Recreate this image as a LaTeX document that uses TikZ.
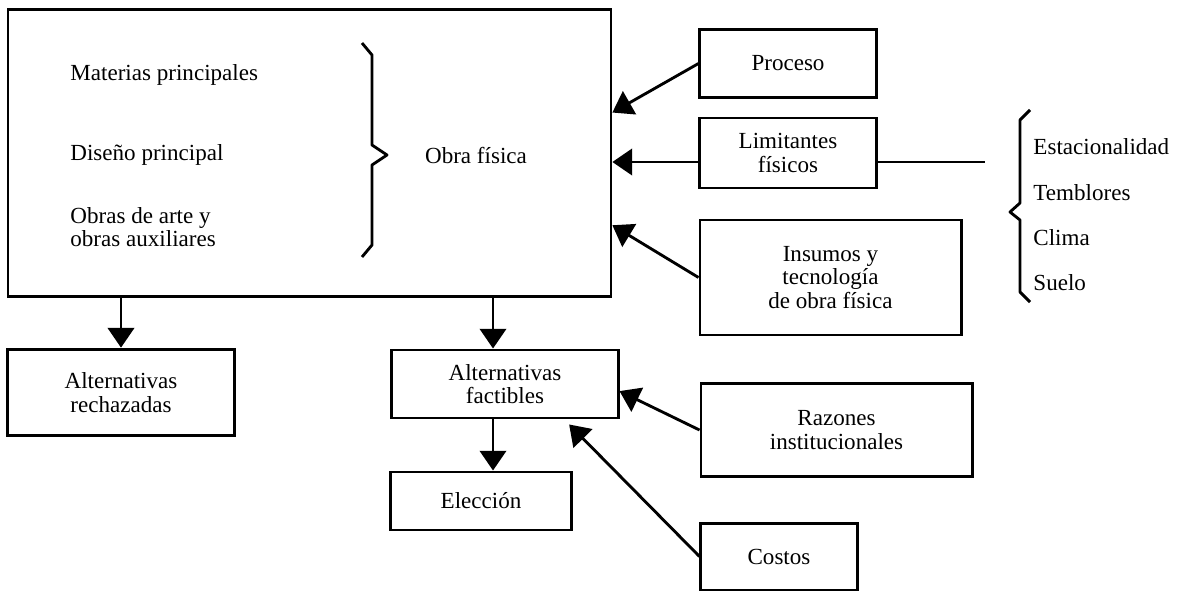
\documentclass[tikz,border=0pt]{standalone}
\usepackage{fontspec}
\setmainfont{Liberation Serif}
\usetikzlibrary{arrows.meta,calc}

\begin{document}
\begin{tikzpicture}[x=0.016cm,y=-0.016cm,inner sep=0pt,
    font=\fontsize{10.5}{10.8}\selectfont,
    box/.style={draw,line width=1.3pt,align=center},
    arr/.style={line width=1.3pt,-{Triangle[length=9pt,width=12pt]}},
    brace/.style={line width=1.3pt,line join=round}]
      \useasboundingbox (0,0) rectangle (1180,593);
      \node[box,minimum width=9.65cm,minimum height=4.58cm] (obra) at (309.5,153) {};
      \node[anchor=west] (materias) at (70,75) {Materias principales};
      \node[anchor=west] (diseno) at (70,155) {Diseño principal};
      \node[anchor=west,align=left] (artes) at (70,227) {Obras de arte y\\obras auxiliares};
      \draw[brace] (362,43)--(372,55)--(372,145)--(387,155)--(372,165)--(372,245)--(362,257);
      \node (fisica) at (476,155) {Obra física};
      \node[box,minimum width=2.82cm,minimum height=1.10cm] (proceso) at (788,63.5) {Proceso};
      \node[box,minimum width=2.82cm,minimum height=1.12cm] (limitantes) at (788,153) {Limitantes\\físicos};
      \node[box,minimum width=4.18cm,minimum height=1.84cm] (insumos) at (830.5,277.5) {Insumos y\\tecnología\\de obra física};
      \node[box,minimum width=3.62cm,minimum height=1.39cm] (rechazadas) at (121,392.5) {Alternativas\\rechazadas};
      \node[box,minimum width=3.62cm,minimum height=1.09cm] (factibles) at (505,384) {Alternativas\\factibles};
      \node[box,minimum width=2.91cm,minimum height=0.93cm] (eleccion) at (481,501) {Elección};
      \node[box,minimum width=4.34cm,minimum height=1.50cm] (razones) at (836.5,430) {Razones\\institucionales};
      \node[box,minimum width=2.50cm,minimum height=1.07cm] (costos) at (779,556.5) {Costos};
      % physical constraints listed on the right
      \draw[brace] (1030,110)--(1020,120)--(1020,203)--(1010,212)--(1020,220)--(1020,292)--(1030,302);
      \node[anchor=west] (estac) at (1033,147) {Estacionalidad};
      \node[anchor=west] (temblores) at (1033,193) {Temblores};
      \node[anchor=west] (clima) at (1033,238) {Clima};
      \node[anchor=west] (suelo) at (1033,283) {Suelo};
      \coordinate (corte) at (985,162);
      \coordinate (eje) at (493,0);
      \draw[arr] (proceso.west) -- ($(obra.north east)!0.36!(obra.south east)$);
      \draw[arr] ($(limitantes.west)+(0,9)$) -- ($(limitantes.west -| obra.east)+(0,9)$);
      \draw[line width=1.3pt] ($(limitantes.east)+(0,9)$) -- (corte);
      \draw[arr] (insumos.west) -- ($(obra.north east)!0.75!(obra.south east)$);
      \draw[arr] (obra.south -| rechazadas) -- (rechazadas.north);
      \draw[arr] (obra.south -| eje) -- (factibles.north -| eje);
      \draw[arr] (factibles.south -| eje) -- (eleccion.north -| eje);
      \draw[arr] (razones.west) -- ($(factibles.north east)!0.6!(factibles.south east)$);
      \draw[arr] (costos.west) -- ($(factibles.south west)!0.78!(factibles.south east)+(0,5)$);
\end{tikzpicture}
\end{document}
